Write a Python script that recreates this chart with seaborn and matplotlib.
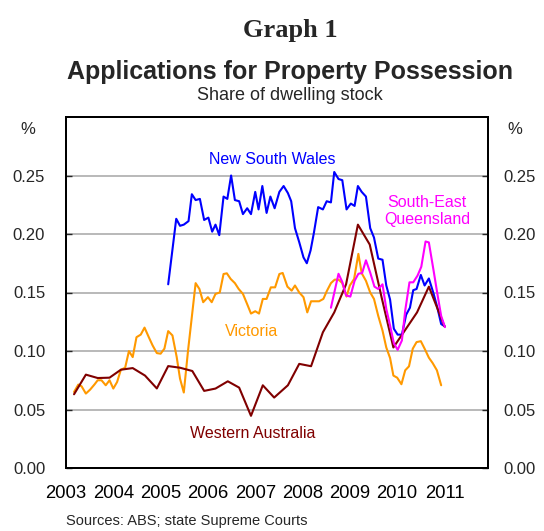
import matplotlib
matplotlib.use("Agg")
import matplotlib.pyplot as plt
import pandas as pd
import seaborn as sns

# -------------------------------------------------------
# data (share of dwelling stock, %)
nsw_x = [2005.16, 2005.33, 2005.41, 2005.49, 2005.59, 2005.66, 2005.74, 2005.83, 2005.92,
         2006.01, 2006.09, 2006.16, 2006.24, 2006.33, 2006.41, 2006.49, 2006.57, 2006.66,
         2006.74, 2006.83, 2006.91, 2007.00, 2007.07, 2007.15, 2007.24, 2007.32, 2007.41,
         2007.51, 2007.60, 2007.69, 2007.76, 2007.84, 2007.93, 2008.02, 2008.09, 2008.17,
         2008.24, 2008.33, 2008.43, 2008.51, 2008.60, 2008.67, 2008.76, 2008.84, 2008.93,
         2009.02, 2009.10, 2009.17, 2009.25, 2009.34, 2009.43, 2009.51, 2009.60, 2009.69,
         2009.77, 2009.85, 2009.93, 2010.01, 2010.10, 2010.19, 2010.27, 2010.34, 2010.41,
         2010.50, 2010.58, 2010.67, 2010.77, 2010.85, 2010.93, 2011.01]
nsw_y = [0.157, 0.213, 0.207, 0.208, 0.211, 0.234, 0.229, 0.230, 0.212,
         0.214, 0.202, 0.208, 0.199, 0.232, 0.230, 0.250, 0.229, 0.228,
         0.217, 0.222, 0.217, 0.236, 0.221, 0.241, 0.218, 0.232, 0.222,
         0.236, 0.241, 0.235, 0.228, 0.205, 0.193, 0.180, 0.175, 0.186,
         0.201, 0.223, 0.221, 0.228, 0.227, 0.253, 0.247, 0.246, 0.221,
         0.226, 0.224, 0.241, 0.236, 0.232, 0.205, 0.197, 0.179, 0.178,
         0.156, 0.144, 0.119, 0.114, 0.114, 0.131, 0.137, 0.152, 0.153,
         0.165, 0.156, 0.162, 0.149, 0.137, 0.123, 0.121]

vic_x = [2003.17, 2003.26, 2003.33, 2003.42, 2003.51, 2003.60, 2003.67, 2003.75, 2003.84,
         2003.92, 2004.00, 2004.08, 2004.16, 2004.25, 2004.33, 2004.41, 2004.49, 2004.58,
         2004.66, 2004.75, 2004.83, 2004.92, 2005.00, 2005.08, 2005.16, 2005.25, 2005.34,
         2005.41, 2005.49, 2005.58, 2005.74, 2005.82, 2005.90, 2006.00, 2006.08, 2006.16,
         2006.25, 2006.33, 2006.40, 2006.48, 2006.57, 2006.65, 2006.74, 2006.83, 2006.91,
         2007.00, 2007.08, 2007.16, 2007.24, 2007.33, 2007.42, 2007.51, 2007.58, 2007.68,
         2007.77, 2007.84, 2007.93, 2008.02, 2008.10, 2008.18, 2008.26, 2008.35, 2008.44,
         2008.51, 2008.60, 2008.68, 2008.76, 2008.84, 2008.93, 2009.00, 2009.09, 2009.18,
         2009.25, 2009.34, 2009.43, 2009.51, 2009.60, 2009.69, 2009.77, 2009.85, 2009.92,
         2010.00, 2010.09, 2010.17, 2010.25, 2010.33, 2010.41, 2010.50, 2010.58, 2010.67,
         2010.75, 2010.84, 2010.93]
vic_y = [0.065, 0.0713, 0.0698, 0.0636, 0.067, 0.0713, 0.075, 0.075, 0.0707,
         0.075, 0.0679, 0.0735, 0.084, 0.0857, 0.0999, 0.0948, 0.1118, 0.114,
         0.120, 0.1118, 0.1048, 0.0982, 0.0977, 0.102, 0.117, 0.1133, 0.0948,
         0.0764, 0.0645, 0.1005, 0.158, 0.153, 0.1417, 0.146, 0.1417, 0.1488,
         0.150, 0.1658, 0.1664, 0.1616, 0.158, 0.153, 0.1488, 0.140, 0.132,
         0.134, 0.132, 0.1445, 0.1445, 0.1544, 0.1544, 0.1658, 0.1667, 0.155,
         0.1516, 0.156, 0.150, 0.146, 0.133, 0.1425, 0.1425, 0.1425, 0.1445,
         0.151, 0.158, 0.161, 0.161, 0.158, 0.1465, 0.156, 0.1616, 0.183,
         0.1665, 0.160, 0.150, 0.1445, 0.130, 0.1175, 0.103, 0.094, 0.079,
         0.0772, 0.0716, 0.0835, 0.0869, 0.102, 0.1076, 0.1084, 0.102, 0.0943,
         0.0897, 0.0835, 0.0707]

wa_x = [2003.17, 2003.42, 2003.67, 2003.92, 2004.16, 2004.41, 2004.67, 2004.92,
        2005.16, 2005.41, 2005.67, 2005.92, 2006.16, 2006.42, 2006.66, 2006.91,
        2007.16, 2007.40, 2007.69, 2007.93, 2008.18, 2008.43, 2008.67, 2008.92,
        2009.17, 2009.42, 2009.67, 2009.92, 2010.17, 2010.42, 2010.67, 2011.00]
wa_y = [0.063, 0.0798, 0.0769, 0.0772, 0.084, 0.0854, 0.079, 0.068,
        0.0871, 0.0857, 0.0829, 0.0659, 0.0679, 0.0741, 0.0687, 0.0446,
        0.0707, 0.0602, 0.0707, 0.089, 0.087, 0.116, 0.133, 0.157,
        0.208, 0.191, 0.146, 0.103, 0.118, 0.133, 0.155, 0.121]

seq_x = [2008.60, 2008.76, 2008.84, 2008.92, 2009.01, 2009.10, 2009.18, 2009.26, 2009.34,
         2009.43, 2009.52, 2009.60, 2009.69, 2009.77, 2009.85, 2009.93, 2010.01, 2010.10,
         2010.17, 2010.26, 2010.34, 2010.43, 2010.51, 2010.60, 2010.67, 2010.77, 2010.85,
         2010.93, 2011.01]
seq_y = [0.137, 0.166, 0.159, 0.1475, 0.1465, 0.160, 0.166, 0.1667, 0.1775,
         0.167, 0.155, 0.153, 0.157, 0.136, 0.1218, 0.1067, 0.101, 0.109,
         0.1346, 0.1587, 0.1587, 0.1644, 0.172, 0.1936, 0.1928, 0.1687, 0.1488,
         0.130, 0.1204]

states = ['New South Wales', 'Victoria', 'Western Australia', 'South-East Queensland']
colours = ['#0000ff', '#ff9900', '#800000', '#ff00ff']
years = list(range(2003, 2012))
y_ticks = [0.00, 0.05, 0.10, 0.15, 0.20, 0.25]

df = pd.concat([
    pd.DataFrame({'date': nsw_x, 'share': nsw_y, 'state': states[0]}),
    pd.DataFrame({'date': vic_x, 'share': vic_y, 'state': states[1]}),
    pd.DataFrame({'date': wa_x, 'share': wa_y, 'state': states[2]}),
    pd.DataFrame({'date': seq_x, 'share': seq_y, 'state': states[3]}),
])

# -------------------------------------------------------
# chart
sns.set_style('white')
plt.rcParams['font.family'] = ['Liberation Sans', 'DejaVu Sans']

fig = plt.figure(figsize=(5.44, 5.31), dpi=100)
ax = fig.add_axes([66 / 544, 1 - 468 / 531, (488 - 66) / 544, (468 - 117) / 531])

sns.lineplot(data=df, x='date', y='share', hue='state', hue_order=states,
             palette=dict(zip(states, colours)), estimator=None, sort=False,
             linewidth=1.5, legend=False, ax=ax)

ax.set_xlim(2003, 2011.92)
ax.set_ylim(0, 0.30)
ax.set_xlabel('')
ax.set_ylabel('')
ax.set_xticks(years)
ax.set_xticklabels([str(y) for y in years])
ax.set_yticks(y_ticks)
ax.set_yticklabels([f'{v:.2f}' for v in y_ticks])
ax.grid(axis='y', color='#a6a6a6', linewidth=1.1)
ax.set_axisbelow(True)
ax.tick_params(axis='x', direction='in', length=5, width=1, pad=12, labelsize=13.3, colors='black')
ax.tick_params(axis='y', direction='in', length=4, width=1, pad=15, labelsize=12, left=True)

# right hand axis labels
ax2 = ax.twinx()
ax2.set_ylim(ax.get_ylim())
ax2.set_yticks(y_ticks)
ax2.set_yticklabels([f'{v:.2f}' for v in y_ticks])
ax2.tick_params(axis='y', direction='in', length=4, width=1, pad=11, labelsize=12, right=True)
for a in (ax, ax2):
    for s in a.spines.values():
        s.set_color('black')
        s.set_linewidth(1.4)

# series labels
ax.text(2007.36, 0.264, 'New South Wales', color=colours[0], fontsize=11.5, ha='center', va='center')
ax.text(2006.93, 0.1167, 'Victoria', color=colours[1], fontsize=11.5, ha='center', va='center')
ax.text(2006.95, 0.0298, 'Western Australia', color=colours[2], fontsize=11.5, ha='center', va='center')
ax.text(2010.63, 0.2198, 'South-East\nQueensland', color=colours[3], fontsize=11.5,
        ha='center', va='center', linespacing=1.15)

# titles and notes
fig.text(290 / 544, 1 - 30 / 531, 'Graph 1', family=['Liberation Serif', 'DejaVu Serif'],
         fontweight='bold', fontsize=19, ha='center', va='center')
fig.text(290 / 544, 1 - 72 / 531, 'Applications for Property Possession', fontweight='bold',
         fontsize=18, ha='center', va='center')
fig.text(290 / 544, 1 - 95 / 531, 'Share of dwelling stock', fontsize=13, ha='center', va='center')
fig.text(28 / 544, 1 - 130 / 531, '%', fontsize=12, ha='center', va='center')
fig.text(515 / 544, 1 - 130 / 531, '%', fontsize=12, ha='center', va='center')
fig.text(66 / 544, 1 - 521 / 531, 'Sources: ABS; state Supreme Courts', fontsize=10.5, ha='left', va='center')

fig.savefig('out.png', dpi=100)
